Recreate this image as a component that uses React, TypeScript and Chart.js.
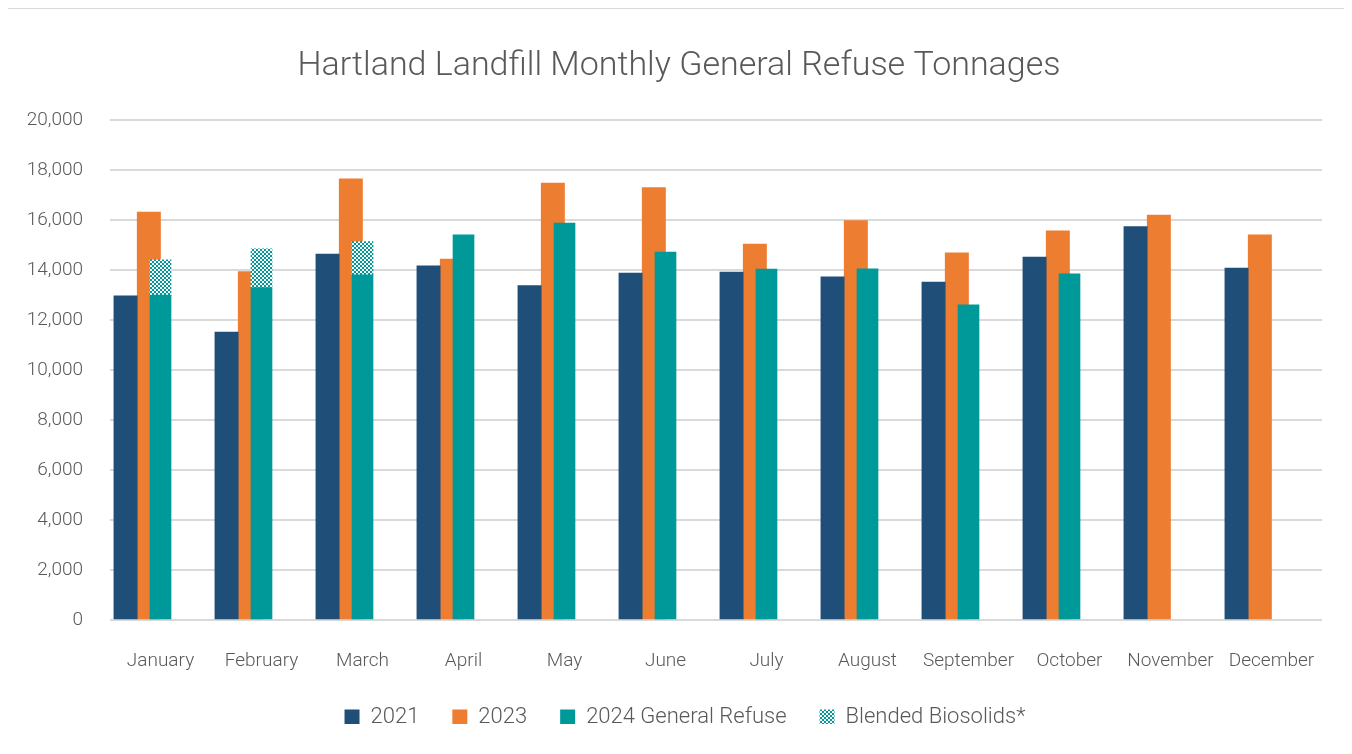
import React, { useEffect, useRef } from "react";
import { Chart, registerables } from "chart.js";

Chart.register(...registerables);

const months = [
  "January", "February", "March", "April", "May", "June",
  "July", "August", "September", "October", "November", "December",
];
const tons2021 = [12960, 11510, 14630, 14160, 13370, 13870, 13910, 13720, 13510, 14510, 15730, 14070];
const tons2023 = [16310, 13930, 17640, 14430, 17470, 17290, 15030, 15970, 14680, 15560, 16190, 15400];
const general2024 = [12990, 13290, 13800, 15400, 15870, 14710, 14030, 14040, 12600, 13840, null, null];
const biosolids2024 = [1410, 1550, 1330, null, null, null, null, null, null, null, null, null];
const emptySlotA = [null, null, null, null, null, null, null, null, null, null, null, null];
const emptySlotB = [null, null, null, null, null, null, null, null, null, null, null, null];

const Y_MIN = 0;
const Y_MAX = 20000;
const Y_STEP = 2000;

const FONT = "Roboto, 'DejaVu Sans Condensed', sans-serif";
const TEXT = "#595959";
const NAVY = "#1F4E79";
const ORANGE = "#ED7D31";
const TEAL = "#009999";

function makeChecker(): CanvasPattern | string {
  const c = document.createElement("canvas");
  c.width = 4;
  c.height = 4;
  const g = c.getContext("2d");
  if (!g) return TEAL;
  g.fillStyle = "#ffffff";
  g.fillRect(0, 0, 4, 4);
  g.fillStyle = TEAL;
  g.fillRect(0, 0, 2, 2);
  g.fillRect(2, 2, 2, 2);
  return g.createPattern(c, "repeat") || TEAL;
}

// Excel centres the title and legend a little right of the canvas middle.
const boxShift = {
  id: "boxShift",
  afterLayout(chart: any) {
    const lg = chart.legend;
    if (lg) {
      lg.left += 20;
      lg.right += 20;
    }
    const tb = chart.titleBlock;
    if (tb) {
      tb.left += 14;
      tb.right += 14;
    }
  },
};

export default function App() {
  const ref = useRef<HTMLCanvasElement | null>(null);

  useEffect(() => {
    if (!ref.current) return;
    const checker = makeChecker();
    const grouped = { order: 1, barThickness: 23.3, grouped: true };
    const overlay = { order: 0, barThickness: 21, grouped: false, stack: "y2024" };
    const chart = new Chart(ref.current, {
      type: "bar",
      data: {
        labels: months,
        datasets: [
          { label: "2021", data: tons2021, backgroundColor: NAVY, stack: "s2021", ...grouped },
          { label: "2023", data: tons2023, backgroundColor: ORANGE, stack: "s2023", ...grouped },
          { label: "", data: emptySlotA, backgroundColor: "transparent", stack: "gapA", ...grouped },
          { label: "", data: emptySlotB, backgroundColor: "transparent", stack: "gapB", ...grouped },
          { label: "2024 General Refuse", data: general2024, backgroundColor: TEAL, ...overlay },
          { label: "Blended Biosolids*", data: biosolids2024, backgroundColor: checker, ...overlay },
        ] as any,
      },
      options: {
        animation: false,
        responsive: true,
        maintainAspectRatio: false,
        layout: { padding: { left: 0, right: 24, top: 0, bottom: 16 } },
        plugins: {
          title: {
            display: true,
            text: "Hartland Landfill Monthly General Refuse Tonnages",
            color: TEXT,
            font: { family: FONT, size: 34, weight: "300" },
            padding: { top: 37, bottom: 33 },
          },
          legend: {
            position: "bottom",
            labels: {
              color: TEXT,
              font: { family: FONT, size: 22, weight: "300" },
              boxWidth: 15,
              boxHeight: 15,
              padding: 33,
              filter: (item: any) => !!item.text,
              sort: (a: any, b: any) => a.datasetIndex - b.datasetIndex,
            },
          },
          tooltip: { enabled: false },
        },
        scales: {
          x: {
            type: "category",
            offset: true,
            grid: { display: false },
            border: { display: false },
            ticks: {
              color: TEXT,
              font: { family: FONT, size: 19, weight: "300" },
              padding: 22,
              maxRotation: 0,
              autoSkip: false,
            },
            afterFit: (s: any) => {
              s.height = 53;
            },
          },
          y: {
            min: Y_MIN,
            max: Y_MAX,
            grid: { color: "#d9d9d9", lineWidth: 2, drawTicks: false },
            border: { display: false },
            ticks: {
              stepSize: Y_STEP,
              color: TEXT,
              font: { family: FONT, size: 19, weight: "300" },
              padding: 27,
              callback: (v: any) => Number(v).toLocaleString("en-US"),
            },
            afterFit: (s: any) => {
              s.width = 102;
            },
          },
        },
      } as any,
      plugins: [boxShift],
    });
    return () => chart.destroy();
  }, []);

  return (
    <div
      style={{
        width: 1338,
        height: 745,
        marginLeft: -1,
        marginBottom: -30,
        borderTop: "1px solid #d9d9d9",
        borderLeft: "1px solid #d9d9d9",
        borderRight: "1px solid #d9d9d9",
        background: "#ffffff",
      }}
    >
      <div style={{ position: "relative", width: 1338, height: 745 }}>
        <canvas ref={ref} />
      </div>
    </div>
  );
}
